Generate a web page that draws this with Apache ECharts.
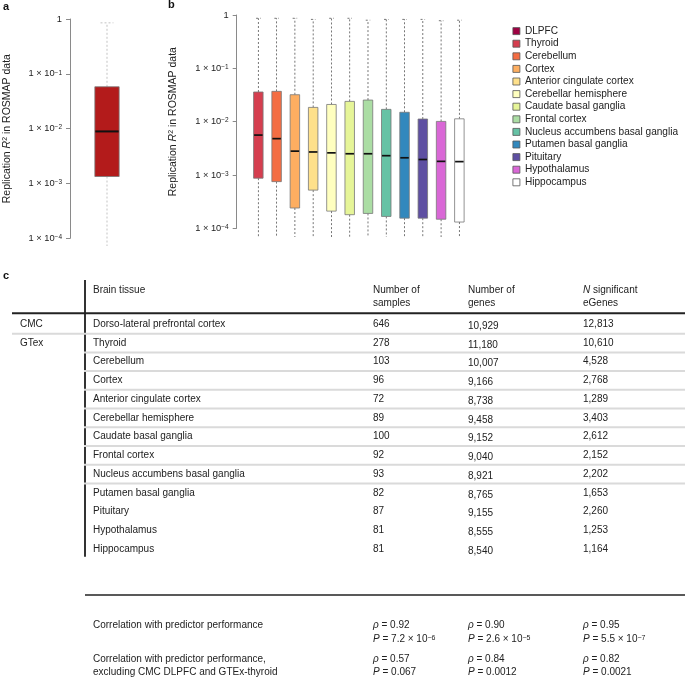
<!DOCTYPE html>
<html><head><meta charset="utf-8">
<script src="https://cdn.jsdelivr.net/npm/echarts@6/dist/echarts.min.js"></script>
<style>html,body{margin:0;padding:0;background:#fff}#c{width:685px;height:680px}</style>
</head><body><div id="c"></div>
<script>
// ---------- DATA ----------
// Panel a: CMC DLPFC predictor replication R^2 (whisker low, Q1, median, Q3, whisker high)
const panelACategory = ['DLPFC'];
const panelALow = [7.2e-5];
const panelAQ1 = [0.00134];
const panelAMedian = [0.0089];
const panelAQ3 = [0.058];
const panelAHigh = [0.85];

// Panel b: GTEx tissues
const tissues = ['Thyroid','Cerebellum','Cortex','Anterior cingulate cortex','Cerebellar hemisphere','Caudate basal ganglia','Frontal cortex','Nucleus accumbens basal ganglia','Putamen basal ganglia','Pituitary','Hypothalamus','Hippocampus'];
const whiskerLow = [6.9e-5,6.9e-5,6.9e-5,6.9e-5,6.9e-5,6.9e-5,6.9e-5,6.9e-5,6.9e-5,6.9e-5,6.9e-5,6.9e-5];
const q1 = [0.00087,0.00075,0.00024,0.00052,0.00021,0.00018,0.00019,0.000167,0.000155,0.000155,0.000148,0.000131];
const median = [0.0056,0.0048,0.0028,0.0027,0.0026,0.0025,0.0025,0.0023,0.0021,0.00195,0.0018,0.00178];
const q3 = [0.036,0.037,0.032,0.0185,0.021,0.024,0.0254,0.017,0.015,0.0112,0.0101,0.0113];
const whiskerHigh = [0.87,0.87,0.87,0.83,0.87,0.87,0.8,0.83,0.83,0.83,0.78,0.8];

const legendNames = ['DLPFC'].concat(tissues);

// Panel c: table
const tableGroups = ['CMC','GTex'];
const tableTissues = ['Dorso-lateral prefrontal cortex','Thyroid','Cerebellum','Cortex','Anterior cingulate cortex','Cerebellar hemisphere','Caudate basal ganglia','Frontal cortex','Nucleus accumbens basal ganglia','Putamen basal ganglia','Pituitary','Hypothalamus','Hippocampus'];
const nSamples = [646,278,103,96,72,89,100,92,93,82,87,81,81];
const nGenes = [10929,11180,10007,9166,8738,9458,9152,9040,8921,8765,9155,8555,8540];
const nEGenes = [12813,10610,4528,2768,1289,3403,2612,2152,2202,1653,2260,1253,1164];
const corrLabels = [['Correlation with predictor performance'],['Correlation with predictor performance,','excluding CMC DLPFC and GTEx-thyroid']];
const rhoAll = ['0.92','0.90','0.95'];
const pAll = [['7.2','−6'],['2.6','−5'],['5.5','−7']];
const rhoExcl = ['0.57','0.84','0.82'];
const pExcl = ['0.067','0.0012','0.0021'];

// ---------- STYLE ----------
const FONT = 'Liberation Sans, Arial, Helvetica, sans-serif';
const panelAColor = '#b31b1b';
const boxColors = ['#d53e4f','#f46d43','#fdae61','#fee08b','#ffffbf','#e6f598','#abdda4','#66c2a5','#3288bd','#5e4fa2','#d967d6','#ffffff'];
const legendColors = ['#9e0142'].concat(boxColors);

function boxRenderer(boxW, capW, whiskerStyle, borderColor, medianW) {
  return function (params, api) {
    const c = api.value(0);
    const pLo = api.coord([c, api.value(1)]);
    const pQ1 = api.coord([c, api.value(2)]);
    const pMed = api.coord([c, api.value(3)]);
    const pQ3 = api.coord([c, api.value(4)]);
    const pHi = api.coord([c, api.value(5)]);
    const x = pMed[0];
    const fill = api.visual('color');
    return {type: 'group', children: [
      {type: 'line', shape: {x1: x, y1: pQ3[1], x2: x, y2: pHi[1]}, style: whiskerStyle},
      {type: 'line', shape: {x1: x, y1: pQ1[1], x2: x, y2: pLo[1]}, style: whiskerStyle},
      {type: 'line', shape: {x1: x - capW / 2, y1: pHi[1], x2: x + capW / 2, y2: pHi[1]}, style: whiskerStyle},
      {type: 'rect', shape: {x: x - boxW / 2, y: pQ3[1], width: boxW, height: pQ1[1] - pQ3[1]}, style: {fill: fill, stroke: borderColor, lineWidth: 0.8}},
      {type: 'line', shape: {x1: x - boxW / 2 + 0.5, y1: pMed[1], x2: x + boxW / 2 - 0.5, y2: pMed[1]}, style: {stroke: '#111', lineWidth: medianW}}
    ]};
  };
}

function tickFormatter(v) {
  const k = Math.round(Math.log10(v));
  if (k === 0) return '1';
  return '1 × 10{s|−' + Math.abs(k) + '}';
}

const supRich = {s: {fontSize: 6.5, verticalAlign: 'top', lineHeight: 7, fontFamily: FONT, color: '#222'}};

function makeYAxis(gridIndex, offset, nameGap) {
  return {
    gridIndex: gridIndex, type: 'log', logBase: 10, min: 1e-4, max: 1, offset: offset,
    axisLine: {show: true, lineStyle: {color: '#8a8a8a', width: 1}},
    axisTick: {show: true, length: 4, lineStyle: {color: '#8a8a8a'}},
    splitLine: {show: false},
    minorTick: {show: false},
    axisLabel: {formatter: tickFormatter, fontSize: 9.3, color: '#222', margin: 8, fontFamily: FONT, rich: supRich},
    name: 'Replication {i|R}{s|2} in ROSMAP data',
    nameLocation: 'middle', nameRotate: 90, nameGap: nameGap,
    nameTextStyle: {fontSize: 10.5, color: '#222', fontFamily: FONT,
      rich: {i: {fontStyle: 'italic', fontSize: 10.5, fontFamily: FONT, color: '#222'},
             s: {fontSize: 7, verticalAlign: 'top', lineHeight: 8, fontFamily: FONT, color: '#222'}}}
  };
}

// ---------- TABLE (graphic) ----------
const g = [];
const base = {fontSize: 10, fontFamily: FONT, fill: '#222', verticalAlign: 'middle', align: 'left'};
const richT = {i: {fontStyle: 'italic', fontSize: 10, fontFamily: FONT, fill: '#222'},
               s: {fontSize: 7, verticalAlign: 'top', lineHeight: 7, fontFamily: FONT, fill: '#222'}};
function txt(x, y, text, extra) {
  g.push({type: 'text', x: x, y: y, silent: true, z: 10, style: Object.assign({}, base, {text: text, rich: richT}, extra || {})});
}
function ln(x1, y1, x2, y2, w, color, z) {
  g.push({type: 'line', silent: true, z: z || 5, shape: {x1: x1, y1: y1, x2: x2, y2: y2}, style: {stroke: color, lineWidth: w}});
}
const COL = {group: 20, tissue: 93, samples: 373, genes: 468, egenes: 583};
const rowY0 = 324.3, rowH = 18.72;
const fmt = n => n.toLocaleString('en-US');

// panel letters
g.push({type: 'text', x: 3, y: 6.5, style: {text: 'a', fontSize: 11, fontWeight: 'bold', fontFamily: FONT, fill: '#111', verticalAlign: 'middle'}});
g.push({type: 'text', x: 168, y: 5, style: {text: 'b', fontSize: 11, fontWeight: 'bold', fontFamily: FONT, fill: '#111', verticalAlign: 'middle'}});
g.push({type: 'text', x: 3, y: 276, style: {text: 'c', fontSize: 11, fontWeight: 'bold', fontFamily: FONT, fill: '#111', verticalAlign: 'middle'}});

// header
txt(COL.tissue, 290.7, 'Brain tissue');
txt(COL.samples, 296.4, 'Number of\nsamples', {lineHeight: 12.7});
txt(COL.genes, 296.4, 'Number of\ngenes', {lineHeight: 12.7});
txt(COL.egenes, 296.4, '{i|N} significant\neGenes', {lineHeight: 12.7});

// lines
ln(85, 280, 85, 556.7, 2, '#333', 4);
ln(12, 313.3, 685, 313.3, 2, '#222', 6);
for (let i = 0; i < 9; i++) {
  const y = rowY0 + (i + 0.5) * rowH;
  ln(i === 0 ? 12 : 84, y, 685, y, 2, '#dadada', 6);
}
ln(85, 595, 685, 595, 1.6, '#222', 6);

// rows
tableGroups.forEach((gr, i) => txt(COL.group, rowY0 + i * rowH, gr));
tableTissues.forEach((t, i) => {
  const y = rowY0 + i * rowH;
  txt(COL.tissue, y, t);
  txt(COL.samples, y, String(nSamples[i]));
  txt(COL.genes, y + 2, fmt(nGenes[i]));
  txt(COL.egenes, y, fmt(nEGenes[i]));
});

// correlations
txt(COL.tissue, 625.6, corrLabels[0][0]);
txt(COL.tissue, 659.3, corrLabels[1][0]);
txt(COL.tissue, 671.9, corrLabels[1][1]);
const cols3 = [COL.samples, COL.genes, COL.egenes];
cols3.forEach((x, j) => {
  txt(x, 625.6, '{i|ρ} = ' + rhoAll[j]);
  txt(x, 639.6, '{i|P} = ' + pAll[j][0] + ' × 10{s|' + pAll[j][1] + '}');
  txt(x, 658.8, '{i|ρ} = ' + rhoExcl[j]);
  txt(x, 672.6, '{i|P} = ' + pExcl[j]);
});

// ---------- CHART ----------
const chart = echarts.init(document.getElementById('c'), null, {renderer: 'canvas'});
const seriesB = tissues.map((t, i) => ({
  type: 'custom', name: t, xAxisIndex: 1, yAxisIndex: 1,
  renderItem: boxRenderer(9.5, 4.5, {stroke: '#555', lineWidth: 0.8, lineDash: [2, 2]}, '#777', 1.7),
  data: [[i, whiskerLow[i], q1[i], median[i], q3[i], whiskerHigh[i]]],
  encode: {x: 0, y: [1, 2, 3, 4, 5]},
  itemStyle: {color: boxColors[i]}
}));
const seriesA = {
  type: 'custom', name: 'DLPFC', xAxisIndex: 0, yAxisIndex: 0,
  renderItem: boxRenderer(24.3, 13, {stroke: '#bdbdbd', lineWidth: 0.9, lineDash: [2, 2]}, '#777', 2),
  data: panelACategory.map((c, i) => [i, panelALow[i], panelAQ1[i], panelAMedian[i], panelAQ3[i], panelAHigh[i]]),
  encode: {x: 0, y: [1, 2, 3, 4, 5]},
  itemStyle: {color: panelAColor}
};

chart.setOption({
  animation: false,
  backgroundColor: '#fff',
  textStyle: {fontFamily: FONT},
  grid: [
    {left: 82, width: 50, top: 19, height: 219.3},
    {left: 249.2, width: 219.3, top: 15, height: 213.3}
  ],
  xAxis: [
    {gridIndex: 0, type: 'category', data: panelACategory, show: false},
    {gridIndex: 1, type: 'category', data: tissues, show: false}
  ],
  yAxis: [makeYAxis(0, 12, 57.5), makeYAxis(1, 12.5, 58)],
  legend: {
    orient: 'vertical', left: 507.5, top: 19.8, itemWidth: 7, itemHeight: 7, itemGap: 0,
    icon: 'rect', selectedMode: false,
    textStyle: {fontSize: 10.1, color: '#222', lineHeight: 12.6, fontFamily: FONT},
    itemStyle: {borderColor: '#555', borderWidth: 0.8},
    data: legendNames.map((n, i) => ({name: n, itemStyle: {color: legendColors[i]}}))
  },
  series: [seriesA].concat(seriesB),
  graphic: {elements: g}
});
</script>
</body></html>
